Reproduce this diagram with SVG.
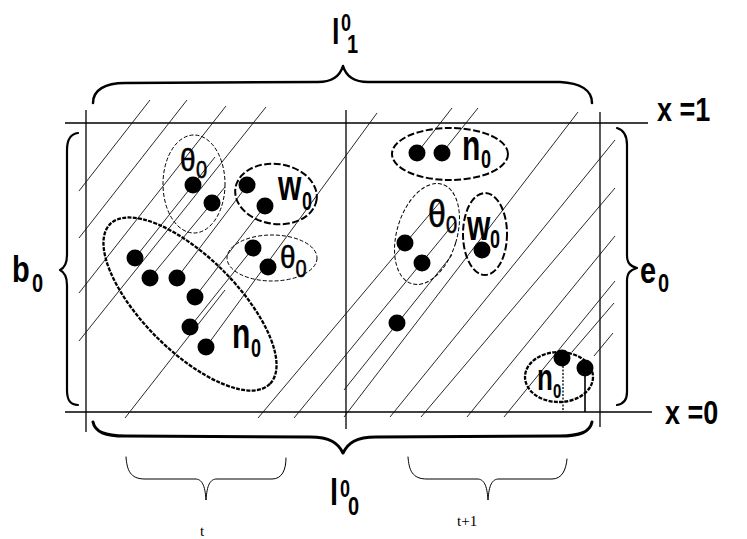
<svg xmlns="http://www.w3.org/2000/svg" width="747" height="539" viewBox="0 0 747 539">
<style>
.frame{stroke:#000;stroke-width:1.3;fill:none}
.hatch{stroke:#111;stroke-width:0.9;fill:none}
.brace{stroke:#000;fill:none;stroke-linecap:round;stroke-linejoin:round}
.thin{stroke:#000;stroke-width:1;fill:none;stroke-dasharray:4 2}
.dash{stroke:#000;stroke-width:2;fill:none;stroke-dasharray:7 2.5}
.dotted{stroke:#000;stroke-width:2.3;fill:none;stroke-dasharray:4 1.3}
.pt{fill:#000}
.lab{font-family:"Liberation Sans",Arial,sans-serif;fill:#000;font-weight:bold}
.th{font-family:"Liberation Sans",Arial,sans-serif;fill:#000;stroke:#000;stroke-width:0.5}
.big{font-family:"Liberation Sans",Arial,sans-serif;font-weight:bold;fill:#000}
.ser{font-family:"Liberation Serif","Times New Roman",serif;fill:#000;font-size:15px}
</style>
<rect width="747" height="539" fill="#fff"/>

<g id="frame" class="frame">
<line x1="65" y1="123" x2="648" y2="123"/>
<line x1="65" y1="412" x2="652" y2="412"/>
<line x1="86" y1="110" x2="86" y2="432"/>
<line x1="346" y1="110" x2="346" y2="429"/>
<line x1="600" y1="112" x2="600" y2="427"/>
</g>

<g id="connectors" class="hatch">
<line x1="79" y1="191" x2="150" y2="100"/>
<line x1="79" y1="238" x2="187" y2="100"/>
<line x1="79" y1="293" x2="226" y2="106"/>
<line x1="79" y1="341" x2="266" y2="107"/>
<line x1="135" y1="258" x2="215" y2="157"/>
<line x1="150" y1="278" x2="225" y2="187"/>
<line x1="177" y1="278" x2="252" y2="179"/>
<line x1="195" y1="297" x2="268" y2="202"/>
<line x1="190" y1="327" x2="258" y2="242"/>
<line x1="206" y1="347" x2="377" y2="113"/>
<line x1="125" y1="418" x2="225" y2="290"/>
<line x1="258" y1="418" x2="440" y2="202"/>
<line x1="294" y1="418" x2="455" y2="222"/>
<line x1="344" y1="390" x2="452" y2="255"/>
<line x1="344" y1="417" x2="578" y2="112"/>
<line x1="417" y1="153" x2="452" y2="108"/>
<line x1="442" y1="153" x2="478" y2="108"/>
<line x1="390" y1="417" x2="615" y2="140"/>
<line x1="421" y1="417" x2="615" y2="188"/>
<line x1="467" y1="417" x2="615" y2="236"/>
<line x1="504" y1="417" x2="615" y2="281"/>
<line x1="572" y1="352" x2="614" y2="303"/>
<line x1="594" y1="356" x2="613" y2="333"/>
</g>

<g id="theta0-left-top">
<ellipse class="thin" cx="194" cy="184" rx="31" ry="49"/>
<circle class="pt" cx="193" cy="185" r="8.5"/>
<circle class="pt" cx="212" cy="203" r="8.5"/>
<text class="th" transform="translate(180,171) scale(1,1.15)"><tspan font-size="28">θ</tspan><tspan font-size="20" x="16" y="6">0</tspan></text>
</g>

<g id="w0-left">
<ellipse class="dash" cx="276" cy="194" rx="41" ry="30" transform="rotate(8 276 194)"/>
<circle class="pt" cx="247" cy="185" r="8.5"/>
<circle class="pt" cx="265" cy="206" r="8.5"/>
<text class="lab" transform="translate(278,200) scale(1,1.4)"><tspan font-size="30">w</tspan><tspan font-size="18" x="24" y="7">0</tspan></text>
</g>

<g id="theta0-left-2">
<ellipse class="thin" cx="272" cy="258" rx="45" ry="23"/>
<circle class="pt" cx="253" cy="248" r="8.5"/>
<circle class="pt" cx="268" cy="267" r="8.5"/>
<text class="th" transform="translate(280,268) scale(1,1.15)"><tspan font-size="28">θ</tspan><tspan font-size="20" x="15.5" y="7.8">0</tspan></text>
</g>

<g id="n0-left">
<ellipse class="dotted" cx="190" cy="304" rx="113" ry="47" transform="rotate(45 190 304)"/>
<circle class="pt" cx="135" cy="258" r="8.5"/>
<circle class="pt" cx="150" cy="278" r="8.5"/>
<circle class="pt" cx="177" cy="278" r="8.5"/>
<circle class="pt" cx="195" cy="297" r="8.5"/>
<circle class="pt" cx="190" cy="327" r="8.5"/>
<circle class="pt" cx="206" cy="347" r="8.5"/>
<text class="lab" transform="translate(232,348) scale(1,1.4)"><tspan font-size="30">n</tspan><tspan font-size="18" x="19" y="6.4">0</tspan></text>
</g>

<g id="n0-right-top">
<ellipse class="dash" cx="450" cy="154" rx="58" ry="26" stroke-dasharray="9 2 2 2"/>
<circle class="pt" cx="417" cy="153" r="8.5"/>
<circle class="pt" cx="442" cy="153" r="8.5"/>
<text class="lab" transform="translate(462,160) scale(1,1.4)"><tspan font-size="30">n</tspan><tspan font-size="18" x="19" y="5.7">0</tspan></text>
</g>

<g id="theta0-right">
<ellipse class="thin" cx="427" cy="234" rx="30" ry="52" transform="rotate(17 427 234)"/>
<circle class="pt" cx="405" cy="243" r="8.5"/>
<circle class="pt" cx="422" cy="263" r="8.5"/>
<text class="th" transform="translate(428,227) scale(1,1.2)"><tspan font-size="32">θ</tspan><tspan font-size="20" x="18" y="5">0</tspan></text>
</g>

<g id="w0-right">
<ellipse class="dash" cx="485" cy="234" rx="22" ry="41"/>
<circle class="pt" cx="482" cy="250" r="8.5"/>
<text class="lab" transform="translate(467,240) scale(1,1.4)"><tspan font-size="30">w</tspan><tspan font-size="18" x="23" y="5.7">0</tspan></text>
</g>

<g id="lone-point">
<circle class="pt" cx="397" cy="323" r="8.5"/>
</g>

<g id="n0-right-bottom">
<ellipse class="dotted" cx="559" cy="377" rx="34" ry="25"/>
<line x1="563" y1="366" x2="563" y2="412" stroke="#000" stroke-width="1.3" stroke-dasharray="2 1.5"/>
<line x1="585" y1="376" x2="585" y2="412" stroke="#000" stroke-width="1.6"/>
<circle class="pt" cx="562" cy="358" r="8.5"/>
<circle class="pt" cx="585" cy="368" r="8.5"/>
<text class="lab" transform="translate(537,390) scale(1,1.4)"><tspan font-size="26">n</tspan><tspan font-size="15" x="16" y="5.7">0</tspan></text>
</g>

<g id="brace-top">
<path class="brace" stroke-width="2.5" d="M93,103 C93,90 105,83 125,83 L318,82 C333,82 340,76 343,66 C346,76 353,82 368,82 L560,82 C580,83 592,90 592,103"/>
<text class="big" transform="translate(332,44) scale(1,1.3)"><tspan font-size="27">l</tspan><tspan font-size="18" x="9" y="-10">0</tspan><tspan font-size="20" x="15" y="6.9">1</tspan></text>
</g>

<g id="brace-bottom">
<path class="brace" stroke-width="3" d="M93,422 C95,432 105,436 125,436 L310,437 C330,437 338,443 343,453 C348,443 356,437 376,437 L560,436 C580,436 590,432 592,422"/>
<text class="big" transform="translate(330,505) scale(1,1.3)"><tspan font-size="29">l</tspan><tspan font-size="18" x="10" y="-6.2">0</tspan><tspan font-size="20" x="18" y="7.7">0</tspan></text>
</g>

<g id="brace-left">
<path class="brace" stroke-width="2.2" d="M78,133 C70,134 67,140 67,150 L67,255 C67,264 64,268 60,270 C64,272 67,276 67,285 L67,390 C67,400 70,405 78,405"/>
<text class="big" transform="translate(12,282) scale(1,1.3)"><tspan font-size="29">b</tspan><tspan font-size="20" x="20" y="7.7">0</tspan></text>
</g>

<g id="brace-right">
<path class="brace" stroke-width="2.2" d="M617,128 C624,130 627,135 627,145 L627,255 C627,263 630,266 637,268 C630,270 627,273 627,281 L627,392 C627,400 624,404 617,405"/>
<text class="big" transform="translate(640,283) scale(1,1.3)"><tspan font-size="29">e</tspan><tspan font-size="20" x="18" y="6.9">0</tspan></text>
</g>

<g id="brace-t">
<path class="brace" stroke-width="1" d="M126,457 C127,470 130,479 145,479 L195,479 C202,479 205,485 206,500 C207,485 210,479 217,479 L272,479 C282,479 286,470 286,458"/>
<text class="ser" x="200" y="536">t</text>
</g>

<g id="brace-t1">
<path class="brace" stroke-width="1" d="M408,457 C409,470 412,479 427,479 L477,479 C484,479 487,485 488,500 C489,485 492,479 499,479 L552,479 C562,479 566,470 567,459"/>
<text class="ser" x="457" y="526">t+1</text>
</g>

<g id="label-x1">
<text class="big" font-size="27" transform="translate(657,121) scale(1,1.2)">x =1</text>
</g>
<g id="label-x0">
<text class="big" font-size="27" transform="translate(665,424) scale(1,1.2)">x =0</text>
</g>
</svg>
